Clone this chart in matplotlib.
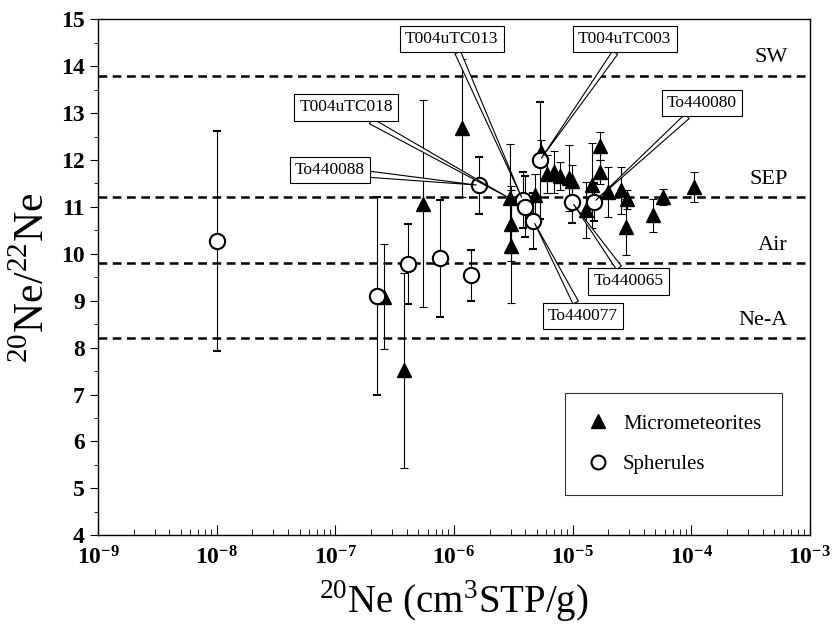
import matplotlib
matplotlib.use("Agg")
import matplotlib.pyplot as plt
from matplotlib.lines import Line2D
import numpy as np

plt.rcParams["font.family"] = ["Liberation Serif", "DejaVu Serif"]
plt.rcParams["mathtext.fontset"] = "custom"
plt.rcParams["mathtext.rm"] = "Liberation Serif"
plt.rcParams["mathtext.bf"] = "Liberation Serif:bold"

# micrometeorites (filled triangles)
mm_x = [2.6e-7, 3.8e-7, 5.5e-7, 1.16e-6, 2.96e-6, 3.0e-6, 3.0e-6, 4.8e-6, 5.4e-6,
        6.1e-6, 7.0e-6, 7.8e-6, 9.3e-6, 9.8e-6, 1.31e-5, 1.45e-5, 1.69e-5, 1.69e-5,
        2.0e-5, 2.58e-5, 2.9e-5, 2.82e-5, 4.77e-5, 5.8e-5, 1.05e-4]
mm_y = [9.08, 7.52, 11.07, 12.68, 11.18, 10.64, 10.16, 11.25, 12.17,
        11.7, 11.75, 11.65, 11.62, 11.55, 10.93, 11.46, 12.3, 11.74,
        11.32, 11.35, 11.16, 10.57, 10.82, 11.21, 11.42]
mm_err = [1.12, 2.08, 2.2, 1.47, 1.17, 0.8, 1.2, 0.45, 0.25,
          0.4, 0.45, 0.3, 0.7, 0.35, 0.6, 0.9, 0.3, 0.25,
          0.53, 0.5, 0.2, 0.6, 0.35, 0.18, 0.32]

# spherules (open circles)
sph_x = [1.0e-8, 2.25e-7, 4.14e-7, 7.6e-7, 1.4e-6, 1.63e-6, 3.8e-6, 4.0e-6,
         4.68e-6, 5.3e-6, 9.9e-6, 1.51e-5]
sph_y = [10.27, 9.1, 9.78, 9.9, 9.54, 11.46, 11.15, 11.0, 10.7, 11.99, 11.1, 11.1]
sph_err = [2.35, 2.1, 0.85, 1.25, 0.54, 0.61, 0.6, 0.65, 0.6, 1.25, 0.45, 0.4]

# reference compositions
ref_names = ["SW", "SEP", "Air", "Ne-A"]
ref_vals = [13.8, 11.2, 9.8, 8.2]

# labelled samples: (name, series, index)
labels = [("T004uTC013", "sph", 6), ("T004uTC003", "sph", 9),
          ("T004uTC018", "mm", 4), ("To440080", "sph", 11),
          ("To440088", "sph", 5), ("To440065", "sph", 10),
          ("To440077", "sph", 8)]
label_pos = {"T004uTC013": (9.6e-7, 14.58), "T004uTC003": (2.75e-5, 14.58),
             "T004uTC018": (1.24e-7, 13.12), "To440080": (1.23e-4, 13.22),
             "To440088": (9.0e-8, 11.78), "To440065": (2.97e-5, 9.41),
             "To440077": (1.22e-5, 8.67)}

fig = plt.figure(figsize=(8.34, 6.41), dpi=100)
ax = fig.add_axes([0.1175, 0.165, 0.8535, 0.805])

for v in ref_vals:
    ax.axhline(v, color="k", lw=1.8, ls=(0, (3.5, 2.2)), zorder=1)
for name, v in zip(ref_names, ref_vals):
    ax.text(6.5e-4, v + 0.18, name, ha="right", va="bottom", fontsize=16)

ax.errorbar(mm_x, mm_y, yerr=mm_err, fmt="^", color="k", mfc="k", mec="k",
            ms=10, elinewidth=0.8, capsize=3, capthick=0.8, zorder=3)
ax.errorbar(sph_x, sph_y, yerr=sph_err, fmt="o", color="k", mfc="white", mec="k",
            ms=11, mew=1.5, elinewidth=0.8, capsize=3, capthick=0.8, zorder=4)

for name, series, i in labels:
    if series == "sph":
        pt = (sph_x[i], sph_y[i])
    else:
        pt = (mm_x[i], mm_y[i])
    ax.annotate(name, xy=pt, xytext=label_pos[name], ha="center", va="center",
                fontsize=12.5, zorder=6,
                bbox=dict(boxstyle="square,pad=0.3", fc="white", ec="k", lw=0.8),
                arrowprops=dict(arrowstyle="wedge,tail_width=0.35", fc="white",
                                ec="k", lw=0.8, shrinkA=0, shrinkB=2))

ax.set_xscale("log")
ax.set_xlim(1e-9, 1e-3)
ax.set_ylim(4, 15)
ax.set_xticks([10.0 ** p for p in range(-9, -2)])
ax.set_xticklabels([r"$\mathbf{10^{%d}}$" % p for p in range(-9, -2)])
ax.set_yticks(np.arange(4, 16))
ax.set_yticks(np.arange(4, 15.01, 0.5), minor=True)
for lab in ax.get_yticklabels():
    lab.set_fontweight("bold")
ax.tick_params(axis="both", labelsize=17)
ax.tick_params(axis="x", which="both", direction="in", top=False)
ax.tick_params(axis="x", which="major", length=7, pad=8)
ax.tick_params(axis="x", which="minor", length=4)
ax.tick_params(axis="y", which="major", direction="out", length=6)
ax.tick_params(axis="y", which="minor", direction="out", length=3)
for s in ax.spines.values():
    s.set_linewidth(1.0)

ax.set_xlabel(r"$^{20}$Ne (cm$^{3}$STP/g)", fontsize=28, labelpad=6)
ax.set_ylabel(r"$^{20}$Ne/$^{22}$Ne", fontsize=30, labelpad=6)

handles = [Line2D([], [], ls="none", marker="^", ms=10, mfc="k", mec="k"),
           Line2D([], [], ls="none", marker="o", ms=10, mfc="white", mec="k", mew=1.5)]
leg = ax.legend(handles, ["Micrometeorites", "Spherules"], loc="lower right",
                bbox_to_anchor=(0.961, 0.078), borderaxespad=0, fontsize=15,
                frameon=True, fancybox=False, edgecolor="k", borderpad=1.0,
                labelspacing=1.0, handlelength=1.2, handletextpad=0.6)
leg.get_frame().set_linewidth(0.8)

fig.savefig("out.png", dpi=100)
